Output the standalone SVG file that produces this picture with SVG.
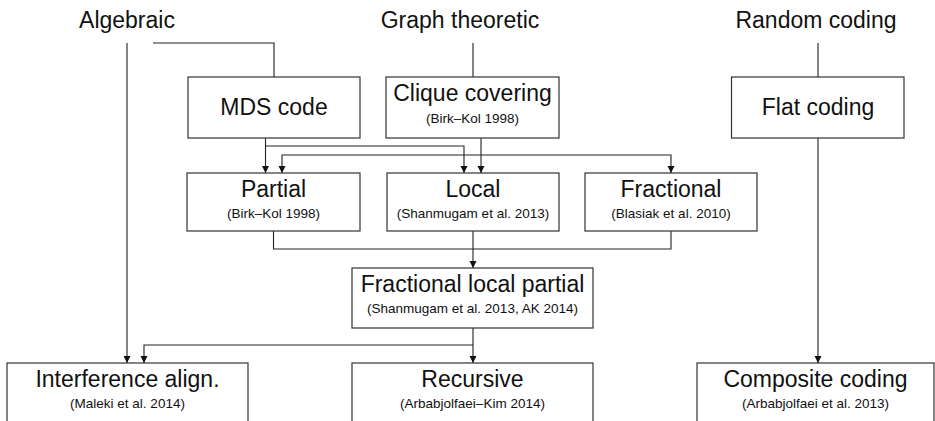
<svg xmlns="http://www.w3.org/2000/svg" width="935" height="421" viewBox="0 0 935 421">
  <style>
    .box { fill: #ffffff; stroke: #333333; stroke-width: 1.2; }
    .wire { fill: none; stroke: #222222; stroke-width: 1.1; }
    .head { font-family: "Liberation Sans", Arial, sans-serif; font-size: 23px; fill: #111111; text-anchor: middle; }
    .title { font-family: "Liberation Sans", Arial, sans-serif; font-size: 23px; fill: #111111; text-anchor: middle; }
    .cite { font-family: "Liberation Sans", Arial, sans-serif; font-size: 13.5px; fill: #111111; text-anchor: middle; }
  </style>
  <defs>
    <marker id="arrow" viewBox="0 0 10 10" refX="10" refY="5" markerUnits="userSpaceOnUse" markerWidth="7" markerHeight="11" orient="auto">
      <path d="M0,0 L10,5 L0,10 z" fill="#111111"/>
    </marker>
  </defs>
  <rect width="935" height="421" fill="#ffffff"/>

  <!-- family headings -->
  <g id="algebraic"><text class="head" x="127" y="28">Algebraic</text></g>
  <g id="graph-theoretic"><text class="head" x="460" y="28">Graph theoretic</text></g>
  <g id="random-coding"><text class="head" x="816" y="28">Random coding</text></g>

  <!-- connectors -->
  <g id="connectors" class="wire">
    <path d="M127,43 V363" marker-end="url(#arrow)"/>
    <path d="M153,43 H274 V77"/>
    <path d="M473,43 V77"/>
    <path d="M818,43 V77"/>
    <path d="M818,138 V363" marker-end="url(#arrow)"/>
    <path d="M265.5,138 V173" marker-end="url(#arrow)"/>
    <path d="M265.5,146 H464 V173" marker-end="url(#arrow)"/>
    <path d="M481,138 V173" marker-end="url(#arrow)"/>
    <path d="M481,155 H282 V173" marker-end="url(#arrow)"/>
    <path d="M481,155 H671 V173" marker-end="url(#arrow)"/>
    <path d="M273.5,231 V249 H671 V231"/>
    <path d="M473,231 V268" marker-end="url(#arrow)"/>
    <path d="M473,328 V363" marker-end="url(#arrow)"/>
    <path d="M473,345 H144 V363" marker-end="url(#arrow)"/>
  </g>

  <!-- top row -->
  <g id="mds-code">
    <rect class="box" x="188" y="77" width="172" height="61"/>
    <text class="title" x="274" y="115">MDS code</text>
  </g>
  <g id="clique-covering">
    <rect class="box" x="386" y="77" width="173" height="61"/>
    <text class="title" x="472.5" y="101">Clique covering</text>
    <text class="cite" x="472.5" y="123">(Birk–Kol 1998)</text>
  </g>
  <g id="flat-coding">
    <rect class="box" x="731.5" y="77" width="172.5" height="61"/>
    <text class="title" x="818" y="115">Flat coding</text>
  </g>

  <!-- middle row -->
  <g id="partial">
    <rect class="box" x="187" y="173" width="173" height="58"/>
    <text class="title" x="273.5" y="197">Partial</text>
    <text class="cite" x="273.5" y="218">(Birk–Kol 1998)</text>
  </g>
  <g id="local">
    <rect class="box" x="387" y="173" width="172" height="58"/>
    <text class="title" x="473" y="197">Local</text>
    <text class="cite" x="473" y="218">(Shanmugam et al. 2013)</text>
  </g>
  <g id="fractional">
    <rect class="box" x="585" y="173" width="172" height="58"/>
    <text class="title" x="671" y="197">Fractional</text>
    <text class="cite" x="671" y="218">(Blasiak et al. 2010)</text>
  </g>

  <!-- combined scheme -->
  <g id="fractional-local-partial">
    <rect class="box" x="352" y="268" width="241" height="60"/>
    <text class="title" x="472.5" y="292">Fractional local partial</text>
    <text class="cite" x="472.5" y="313">(Shanmugam et al. 2013, AK 2014)</text>
  </g>

  <!-- bottom row -->
  <g id="interference-alignment">
    <rect class="box" x="7" y="363" width="241" height="70"/>
    <text class="title" x="127.5" y="387">Interference align.</text>
    <text class="cite" x="127.5" y="408">(Maleki et al. 2014)</text>
  </g>
  <g id="recursive">
    <rect class="box" x="352" y="363" width="241" height="70"/>
    <text class="title" x="472.5" y="387">Recursive</text>
    <text class="cite" x="472.5" y="408">(Arbabjolfaei–Kim 2014)</text>
  </g>
  <g id="composite-coding">
    <rect class="box" x="697" y="363" width="237" height="70"/>
    <text class="title" x="815.5" y="387">Composite coding</text>
    <text class="cite" x="815.5" y="408">(Arbabjolfaei et al. 2013)</text>
  </g>
</svg>
